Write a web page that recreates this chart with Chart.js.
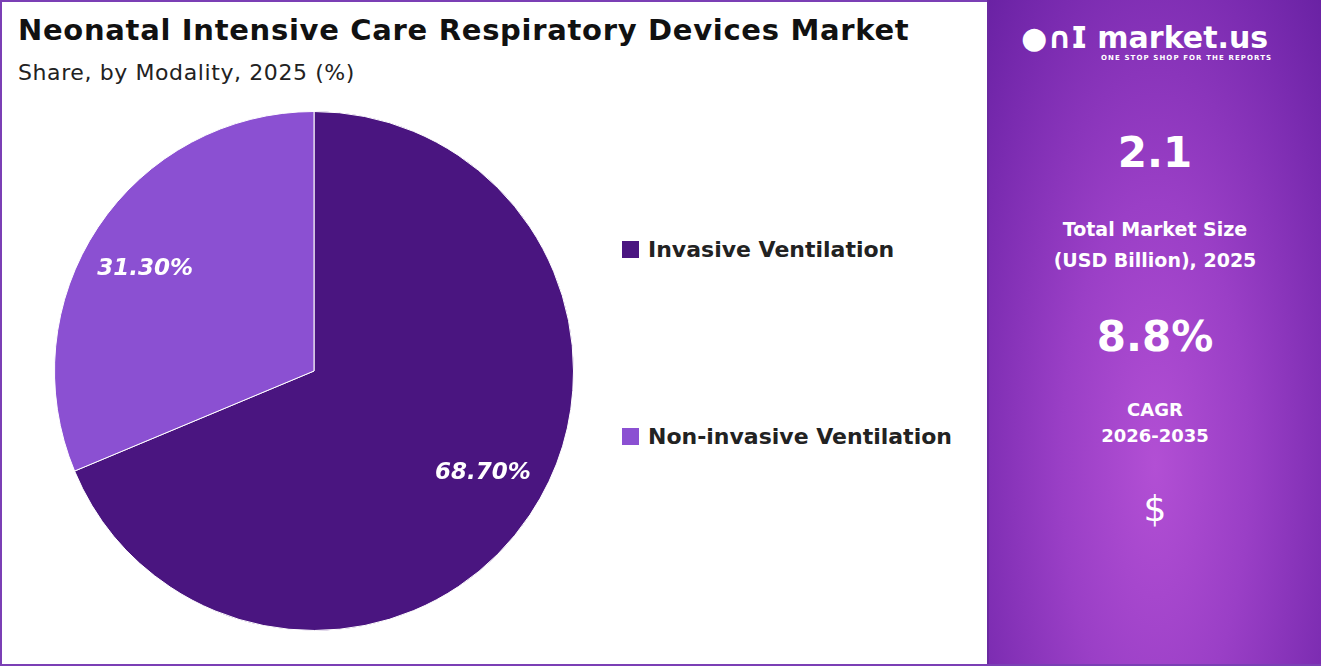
<!DOCTYPE html>
<html><head><meta charset="utf-8">
<script src="https://cdn.jsdelivr.net/npm/chart.js@4"></script>
<style>
html,body{margin:0;padding:0;width:1321px;height:666px;overflow:hidden;font-family:"DejaVu Sans",sans-serif;}
#frame{position:absolute;left:0;top:0;width:1317px;height:662px;border:2px solid #7b3fb5;background:#fff;}
#title{position:absolute;left:18px;top:13px;font-size:29px;font-weight:700;color:#111;letter-spacing:0.7px;white-space:nowrap;}
#sub{position:absolute;left:18px;top:60px;font-size:22px;color:#222;letter-spacing:0.6px;}
#cv{position:absolute;left:52px;top:109px;}
.leg{position:absolute;left:622px;font-size:22px;font-weight:700;color:#222;display:flex;align-items:center;white-space:nowrap;}
.leg i{display:inline-block;width:17px;height:17px;margin-right:9px;}
#side{position:absolute;left:987px;top:0;width:332px;height:664px;border-left:2px solid #6a2aa0;
background:radial-gradient(ellipse at 50% 70%,#b24fd4 0%,#9a3fc6 40%,#7a2bb0 80%,#6a22a4 100%);color:#fff;text-align:center;font-weight:700;}
#side div{position:absolute;}
</style></head><body>
<div id="frame"></div>
<div id="title">Neonatal Intensive Care Respiratory Devices Market</div>
<div id="sub">Share, by Modality, 2025 (%)</div>
<canvas id="cv" width="524" height="524"></canvas>
<div id="legend"></div>
<div id="side">
 <div style="left:32px;top:20px;font-size:30px;white-space:nowrap;">&#9679;&#x2229;&#x1D5DC; market.us</div>
 <div style="left:112px;top:54px;font-size:7px;letter-spacing:1.1px;white-space:nowrap;">ONE STOP SHOP FOR THE REPORTS</div>
 <div style="left:0;width:100%;top:128px;font-size:42px;">2.1</div>
 <div style="left:0;width:100%;top:214px;font-size:19px;line-height:31px;">Total Market Size<br>(USD Billion), 2025</div>
 <div style="left:0;width:100%;top:312px;font-size:42px;">8.8%</div>
 <div style="left:0;width:100%;top:397px;font-size:18px;line-height:26px;">CAGR<br>2026-2035</div>
 <div style="left:0;width:100%;top:488px;font-size:36px;font-weight:400;">$</div>
</div>
<script>
const categories=["Invasive Ventilation","Non-invasive Ventilation"];
const shares=[68.70,31.30];
const colors=["#4a1580","#8b50d2"];
const leg=document.getElementById('legend');
const legTops=[237,424];
categories.forEach((c,i)=>{const d=document.createElement('div');d.className='leg';d.style.top=legTops[i]+'px';d.innerHTML='<i style="background:'+colors[i]+'"></i>'+c;leg.appendChild(d);});
const labelPlugin={id:'lbl',afterDatasetsDraw(ch){const ctx=ch.ctx;const meta=ch.getDatasetMeta(0);ctx.save();ctx.font='italic bold 23px "DejaVu Sans"';ctx.fillStyle='#fff';ctx.textAlign='center';ctx.textBaseline='middle';
meta.data.forEach((a,i)=>{const m=(a.startAngle+a.endAngle)/2-0.045;const r=a.outerRadius*0.76;ctx.fillText(shares[i].toFixed(2)+'%',a.x+Math.cos(m)*r,a.y+Math.sin(m)*r);});ctx.restore();}};
new Chart(document.getElementById('cv'),{type:'pie',data:{labels:categories,datasets:[{data:shares,backgroundColor:colors,borderWidth:1,borderColor:'#fff'}]},
options:{responsive:false,animation:false,layout:{padding:2},plugins:{legend:{display:false},tooltip:{enabled:false}}},plugins:[labelPlugin]});
</script>
</body></html>
